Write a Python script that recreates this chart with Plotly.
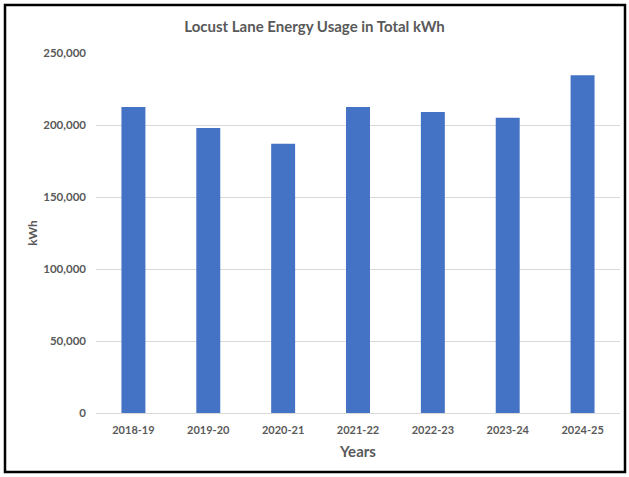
import plotly.graph_objects as go

years = ["2018-19", "2019-20", "2020-21", "2021-22", "2022-23", "2023-24", "2024-25"]
usage_kwh = [212500, 198000, 187000, 212500, 209000, 205000, 234500]
y_ticks = [0, 50000, 100000, 150000, 200000, 250000]

W, H = 629, 477
L, R, T, B = 96, 9, 53, 64
pw, ph = W - L - R, H - T - B

def px_x(p):
    return (p - L) / pw

def px_y(p):
    return (H - B - p) / ph

font_family = "Lato, 'Open Sans', sans-serif"
gray = "#595959"

fig = go.Figure(go.Bar(
    x=years, y=usage_kwh,
    marker=dict(color="#4472C4", line=dict(width=0)),
    hoverinfo="x+y",
))

fig.update_layout(
    width=W, height=H,
    margin=dict(l=L, r=R, t=T, b=B),
    paper_bgcolor="white", plot_bgcolor="white",
    bargap=0.68,
    showlegend=False,
    font=dict(family=font_family, color=gray),
    title=dict(text="<b>Locust Lane Energy Usage in Total kWh</b>",
               x=0.5, xanchor="center", y=1 - 27 / H, yanchor="middle",
               font=dict(size=15, color=gray, family=font_family)),
    xaxis=dict(
        showgrid=False, showline=True, linecolor="#d9d9d9", linewidth=1,
        ticks="", tickfont=dict(size=11, color=gray, family=font_family),
        tickprefix="<b>", ticksuffix="</b>",
        ticklabelstandoff=7,
        title=dict(text="<b>Years</b>", font=dict(size=15, color=gray), standoff=11),
    ),
    yaxis=dict(
        range=[0, 250000], tickvals=y_ticks,
        ticktext=[f"<b>{v:,}</b>" for v in y_ticks],
        showgrid=True, gridcolor="#d9d9d9", gridwidth=1,
        zeroline=False, showline=False, ticks="",
        tickfont=dict(size=11.5, color=gray, family=font_family),
        ticklabelstandoff=9,
        title=dict(text="<b>kWh</b>", font=dict(size=12, color=gray), standoff=3),
    ),
    shapes=[dict(type="rect", xref="paper", yref="paper",
                 x0=px_x(5), x1=px_x(625), y0=px_y(472), y1=px_y(5),
                 line=dict(color="black", width=2.5), fillcolor="rgba(0,0,0,0)",
                 layer="above")],
)

fig.write_html("out.html", config={"displayModeBar": False},
               post_script="document.body.style.margin='0';")
